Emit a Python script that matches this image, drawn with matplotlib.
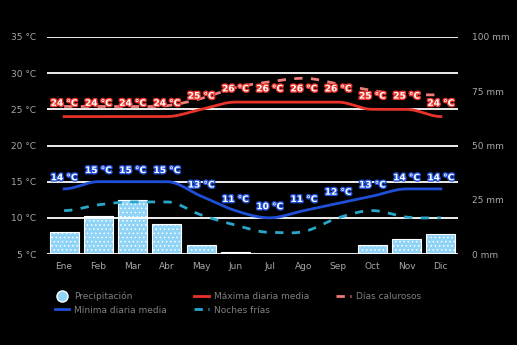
import numpy as np
import matplotlib
matplotlib.use("Agg")
import matplotlib.pyplot as plt
import matplotlib.patheffects as pe
from matplotlib.lines import Line2D

months = ["Ene", "Feb", "Mar", "Abr", "May", "Jun", "Jul", "Ago", "Sep", "Oct", "Nov", "Dic"]
precip_mm = [10, 17.5, 25, 14, 4, 1, 0, 0, 0, 4, 7, 9]
t_max = [24, 24, 24, 24, 25, 26, 26, 26, 26, 25, 25, 24]
t_min = [14, 15, 15, 15, 13, 11, 10, 11, 12, 13, 14, 14]
hot_days = [25.4, 25.4, 25.4, 25.5, 26.5, 28.0, 28.8, 29.3, 28.5, 27.6, 27.0, 27.0]
cold_nights = [11, 11.8, 12.2, 12.2, 10.4, 9.0, 8.0, 8.1, 10.0, 11.0, 10.1, 10.0]
temp_ticks = [5, 10, 15, 20, 25, 30, 35]
precip_ticks = [0, 25, 50, 75, 100]

BG = "black"
RED = "#e8322a"
BLUE = "#1f4fd6"
CYAN = "#2aa6c9"
PINK = "#f07c78"
BARC = "#8fd3f7"

plt.rcParams["hatch.color"] = "white"
plt.rcParams["hatch.linewidth"] = 0.6

fig = plt.figure(figsize=(5.17, 3.45), dpi=100, facecolor=BG)
ax = fig.add_axes([47/517, 1-254/345, (458-47)/517, (254-37)/345])
ax.set_facecolor(BG)
ax2 = ax.twinx()

x = np.arange(len(months))


def smooth(xs, ys, n=20):
    xs = np.asarray(xs, float); ys = np.asarray(ys, float)
    m = np.zeros_like(ys)
    for i in range(len(ys)):
        if i == 0 or i == len(ys) - 1:
            m[i] = 0.0
        else:
            d1 = ys[i] - ys[i-1]; d2 = ys[i+1] - ys[i]
            m[i] = 0.0 if d1 * d2 <= 0 else (d1 + d2) / 2
    X, Y = [], []
    for i in range(len(ys) - 1):
        t = np.linspace(0, 1, n, endpoint=False)
        h00 = 2*t**3 - 3*t**2 + 1; h10 = t**3 - 2*t**2 + t
        h01 = -2*t**3 + 3*t**2; h11 = t**3 - t**2
        X.extend(xs[i] + t)
        Y.extend(h00*ys[i] + h10*m[i] + h01*ys[i+1] + h11*m[i+1])
    X.append(xs[-1]); Y.append(ys[-1])
    return np.array(X), np.array(Y)


# precipitation bars on right axis
ax2.bar(x, precip_mm, width=0.85, color=BARC, edgecolor="white", linewidth=0.8,
        hatch="....", zorder=1)
ax2.set_ylim(0, 100)
ax2.set_yticks(precip_ticks)
ax2.set_yticklabels([f"{v} mm" for v in precip_ticks])

ax.set_zorder(ax2.get_zorder() + 1)
ax.patch.set_visible(False)

ax.set_xlim(-0.5, 11.5)
ax.set_ylim(5, 35)
ax.set_yticks(temp_ticks)
ax.set_yticklabels([f"{v} °C" for v in temp_ticks])
ax.set_xticks(x)
ax.set_xticklabels(months)
ax.grid(axis="y", color="white", linewidth=1.3, zorder=0)
ax.set_axisbelow(True)

for a in (ax, ax2):
    for s in a.spines.values():
        s.set_visible(False)
    a.tick_params(length=0, colors="#a8a8a8", labelsize=6.5)
ax.tick_params(axis="y", pad=8)
ax2.tick_params(axis="y", pad=10)
ax.tick_params(axis="x", pad=6)

X, Y = smooth(x, hot_days)
ax.plot(X, Y, color=PINK, lw=2, dashes=(3, 3), zorder=3)
X, Y = smooth(x, cold_nights)
ax.plot(X, Y, color=CYAN, lw=2, dashes=(3, 3), zorder=3)
X, Y = smooth(x, t_max)
ax.plot(X, Y, color=RED, lw=2, zorder=4)
X, Y = smooth(x, t_min)
ax.plot(X, Y, color=BLUE, lw=2, zorder=4)

for xi, v in zip(x, t_max):
    ax.annotate(f"{v} °C", (xi, v), xytext=(0, 9.5), textcoords="offset points",
                ha="center", va="center", fontsize=6.5, fontweight="bold", color="white",
                path_effects=[pe.withStroke(linewidth=2, foreground=RED)], zorder=6)
for xi, v in zip(x, t_min):
    ax.annotate(f"{v} °C", (xi, v), xytext=(0, 8), textcoords="offset points",
                ha="center", va="center", fontsize=6.5, fontweight="bold", color="white",
                path_effects=[pe.withStroke(linewidth=2, foreground=BLUE)], zorder=6)

handles = [
    Line2D([], [], marker="o", color="none", markerfacecolor=BARC, markeredgecolor="white",
           markersize=8, label="Precipitación"),
    Line2D([], [], color=BLUE, lw=2, label="Mínima diaria media"),
    Line2D([], [], color=RED, lw=2, label="Máxima diaria media"),
    Line2D([], [], color=CYAN, lw=2, dashes=(3, 2), label="Noches frías"),
    Line2D([], [], color=PINK, lw=2, dashes=(3, 2), label="Días calurosos"),
]
leg = fig.legend(handles=handles, ncol=3, loc="upper left", bbox_to_anchor=(50/517, 1-287/345),
                 frameon=False, fontsize=6.5, labelcolor="#808080", handlelength=1.6,
                 handletextpad=0.6, columnspacing=3.0, labelspacing=0.5, borderpad=0)

fig.savefig("out.png", dpi=100, facecolor=BG)
